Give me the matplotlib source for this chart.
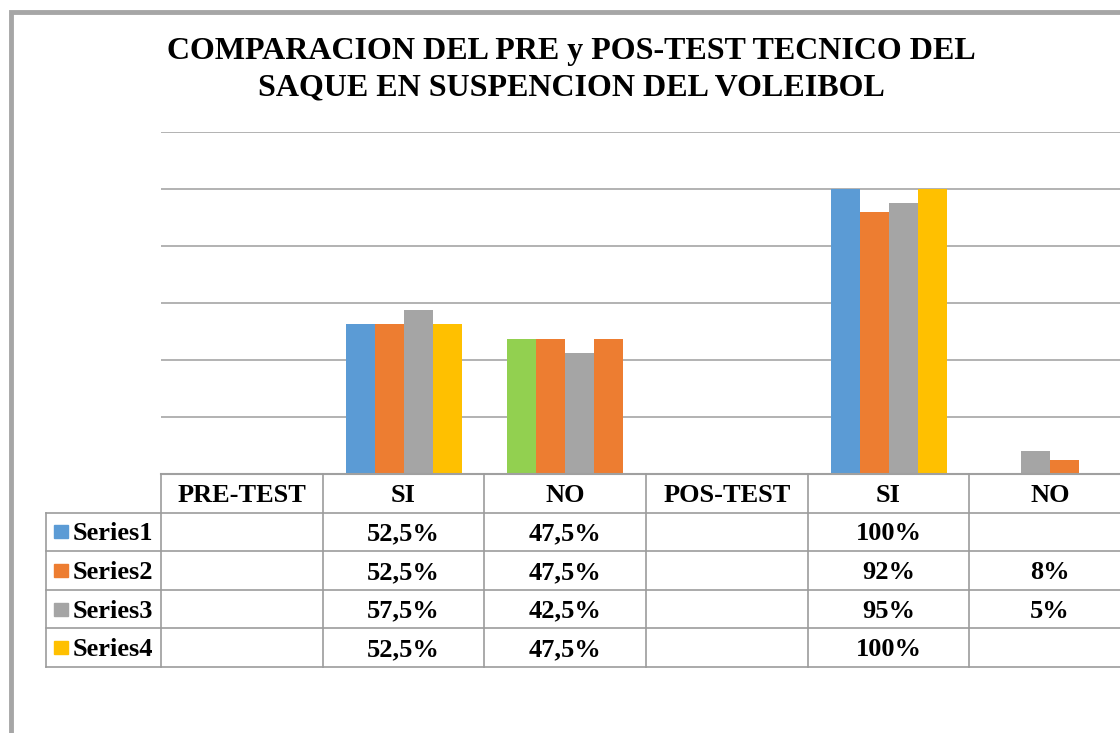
import numpy as np
import matplotlib
matplotlib.use("Agg")
import matplotlib.pyplot as plt
from matplotlib.patches import Rectangle

# ---- data ----
categories = ["PRE-TEST", "SI", "NO", "POS-TEST", "SI", "NO"]
series_names = ["Series1", "Series2", "Series3", "Series4"]
series1 = [np.nan, 52.5, 47.5, np.nan, 100, np.nan]
series2 = [np.nan, 52.5, 47.5, np.nan, 92, 8]
series3 = [np.nan, 57.5, 42.5, np.nan, 95, 5]
series4 = [np.nan, 52.5, 47.5, np.nan, 100, np.nan]
labels1 = ["", "52,5%", "47,5%", "", "100%", ""]
labels2 = ["", "52,5%", "47,5%", "", "92%", "8%"]
labels3 = ["", "57,5%", "42,5%", "", "95%", "5%"]
labels4 = ["", "52,5%", "47,5%", "", "100%", ""]
title = "COMPARACION DEL PRE y POS-TEST TECNICO DEL\nSAQUE EN SUSPENCION DEL VOLEIBOL"

BLUE, ORANGE, GRAY, YELLOW, GREEN = "#5B9BD5", "#ED7D31", "#A5A5A5", "#FFC000", "#92D050"
series_colors = [BLUE, ORANGE, GRAY, YELLOW]
# per-point colour overrides as in the original chart
point_colors = [
    [BLUE, BLUE, GREEN, BLUE, BLUE, BLUE],
    [ORANGE] * 5 + [GRAY],
    [GRAY] * 5 + [ORANGE],
    [YELLOW, YELLOW, ORANGE, YELLOW, YELLOW, YELLOW],
]
values = [series1, series2, series3, series4]
labels = [labels1, labels2, labels3, labels4]

W, H = 1120, 733
fig = plt.figure(figsize=(W / 100, H / 100), dpi=100)
FONT = "Liberation Serif"
LINE = "#A6A6A6"

cat_px = 161.67
ax = fig.add_axes([161 / W, (H - 474) / H, 6 * cat_px / W, (474 - 132) / H])
ax.set_xlim(0, 6)
ax.set_ylim(0, 120)
bw = 29 / cat_px
x = np.arange(len(categories)) + 0.5
for j, (vals, cols) in enumerate(zip(values, point_colors)):
    ax.bar(x + (j - 1.5) * bw, np.nan_to_num(vals), width=bw, color=cols,
           edgecolor="none", zorder=3)
ax.set_yticks(np.arange(0, 121, 20))
ax.yaxis.grid(True, color=LINE, linewidth=1.2, zorder=0)
ax.set_yticklabels([])
ax.tick_params(length=0)
ax.set_xticks([])
for s in ["top", "right", "left"]:
    ax.spines[s].set_visible(False)
ax.spines["bottom"].set_color("#A0A0A0")
ax.spines["bottom"].set_linewidth(1.5)
ax.spines["bottom"].set_zorder(4)

# ---- data table ----
leg_w = 115 / cat_px
tax = fig.add_axes([46 / W, (H - 667) / H, (6 * cat_px + 115) / W, (667 - 474) / H])
tax.set_xlim(-leg_w, 6)
tax.set_ylim(5, 0)
tax.axis("off")
tl = dict(color="#9C9C9C", linewidth=1.2, clip_on=False)
for r in range(1, 6):
    tax.plot([-leg_w, 6], [r, r], **tl)
tax.plot([-leg_w, -leg_w], [1, 5], **tl)
for c in range(0, 7):
    tax.plot([c, c], [0, 5], **tl)
tfont = dict(family=FONT, fontweight="bold", fontsize=19, ha="center", va="center")
for i, cat in enumerate(categories):
    tax.text(i + 0.5, 0.55, cat, **tfont)
for j, name in enumerate(series_names):
    r = j + 1
    tax.add_patch(Rectangle(((54 - 161) / cat_px, r + 0.5 - 0.17), 14 / cat_px, 0.34,
                            color=series_colors[j], clip_on=False))
    tax.text((73 - 161) / cat_px, r + 0.55, name, family=FONT, fontweight="bold",
             fontsize=19, ha="left", va="center")
    for i, lab in enumerate(labels[j]):
        if lab:
            tax.text(i + 0.5, r + 0.55, lab, **tfont)

# ---- title ----
fig.text(571 / W, 1 - 70 / H, title, family=FONT, fontweight="bold", fontsize=23,
         ha="center", va="center", linespacing=1.35)

# ---- chart border ----
fig.add_artist(Rectangle((10.5 / W, -0.1), 2, 1 - 11.5 / H + 0.1, transform=fig.transFigure,
                         fill=False, edgecolor="#A6A6A6", linewidth=3.5))

fig.savefig("out.png", dpi=100)
